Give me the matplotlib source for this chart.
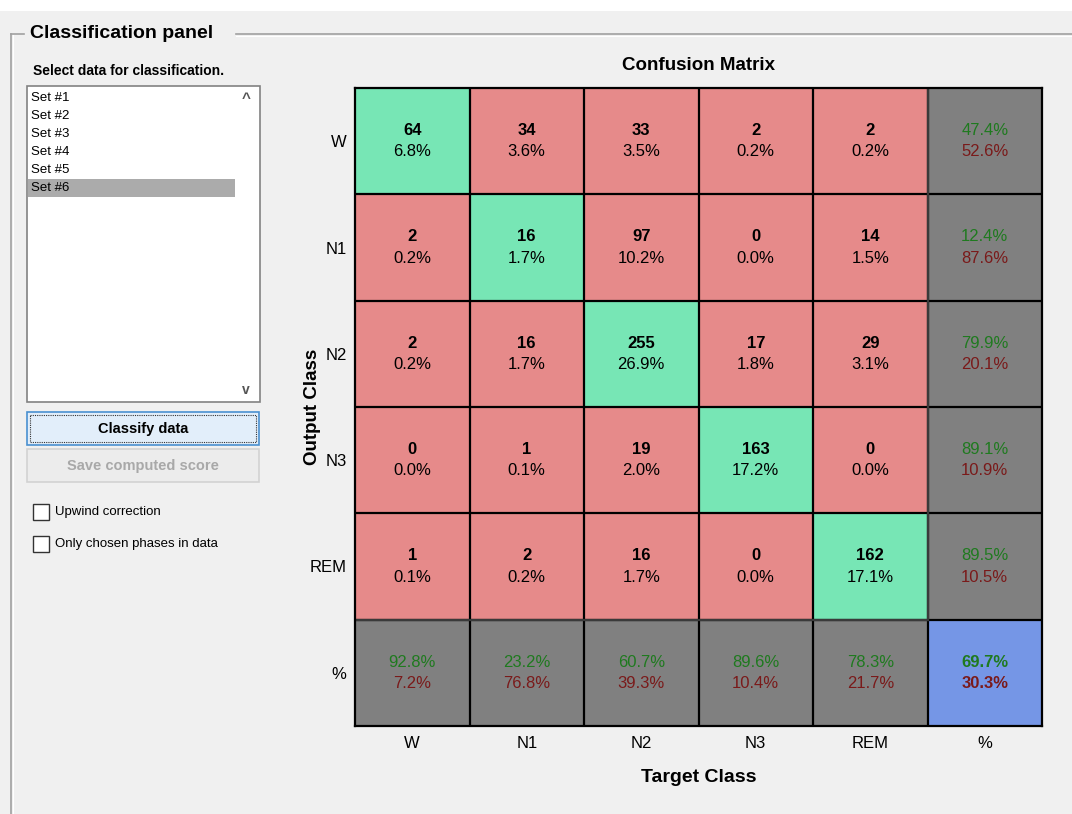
import numpy as np
import matplotlib
matplotlib.use("agg")
import matplotlib.pyplot as plt
from matplotlib.patches import Rectangle

plt.rcParams['font.family'] = ['Liberation Sans', 'DejaVu Sans']

# classes (rows = output, cols = target)
classes = ['W', 'N1', 'N2', 'N3', 'REM']
counts = np.array([
    [64, 34, 33, 2, 2],
    [2, 16, 97, 0, 14],
    [2, 16, 255, 17, 29],
    [0, 1, 19, 163, 0],
    [1, 2, 16, 0, 162],
])
data_sets = ['Set #1', 'Set #2', 'Set #3', 'Set #4', 'Set #5', 'Set #6']
selected_set = 5

W_PX, H_PX = 1072, 814
BG = '#f0f0f0'
GREEN = '#77e6b5'
RED = '#e68a8a'
GRAY = '#808080'
BLUE = '#7596e6'
TXT_GREEN = '#1f7a1f'
TXT_RED = '#7a1a1a'

fig = plt.figure(figsize=(W_PX / 100, H_PX / 100), dpi=100)
fig.patch.set_facecolor(BG)

# ---- GUI layer in pixel coordinates ----
gui = fig.add_axes([0, 0, 1, 1])
gui.set_xlim(0, W_PX)
gui.set_ylim(H_PX, 0)
gui.axis('off')

gui.add_patch(Rectangle((0, 0), W_PX, 11, color='white', lw=0))
# panel frame
gui.plot([11, 11], [34, H_PX], color='#a0a0a0', lw=1.2)
gui.plot([12.5, 12.5], [35, H_PX], color='white', lw=0.8)
gui.plot([11, 24], [34, 34], color='#a0a0a0', lw=1.2)
gui.plot([236, W_PX], [34, 34], color='#a0a0a0', lw=1.2)
gui.plot([236, W_PX], [35.5, 35.5], color='white', lw=0.8)
gui.text(30, 34, 'Classification panel', fontsize=14, fontweight='bold',
         va='center', ha='left')
gui.text(33, 71, 'Select data for classification.', fontsize=10,
         fontweight='bold', va='center', ha='left')

# listbox
gui.add_patch(Rectangle((27, 86), 233, 316, facecolor='white',
                        edgecolor='#828282', lw=1.2))
for i, name in enumerate(data_sets):
    y = 98 + i * 18
    if i == selected_set:
        gui.add_patch(Rectangle((28, y - 9), 207, 18, facecolor='#ababab', lw=0))
    gui.text(31, y, name, fontsize=9.5, va='center', ha='left')
gui.text(246, 99, '^', fontsize=11, fontweight='bold', va='center',
         ha='center', color='#555555')
gui.text(246, 390, 'v', fontsize=10, fontweight='bold', va='center',
         ha='center', color='#555555')

# buttons
gui.add_patch(Rectangle((27, 412), 232, 33, facecolor='#e2eefa',
                        edgecolor='#4a90d0', lw=1.2))
gui.add_patch(Rectangle((30, 415), 226, 27, facecolor='none',
                        edgecolor='#333333', lw=0.8, ls=(0, (1, 1))))
gui.text(143, 429, 'Classify data', fontsize=10.5, fontweight='bold',
         va='center', ha='center')
gui.add_patch(Rectangle((27, 449), 232, 33, facecolor='#ececec',
                        edgecolor='#d2d2d2', lw=1.2))
gui.text(143, 466, 'Save computed score', fontsize=10.5, fontweight='bold',
         va='center', ha='center', color='#a8a8a8')

# checkboxes
for y, label in [(512, 'Upwind correction'), (544, 'Only chosen phases in data')]:
    gui.add_patch(Rectangle((33, y - 8), 16, 16, facecolor='white',
                            edgecolor='#333333', lw=1))
    gui.text(55, y, label, fontsize=9.5, va='center', ha='left')

# ---- confusion matrix ----
n = len(classes)
total = counts.sum()
correct = np.trace(counts)
row_sum = counts.sum(axis=1)
col_sum = counts.sum(axis=0)

def hex2rgb(h):
    return np.array(matplotlib.colors.to_rgb(h))

rgb = np.zeros((n + 1, n + 1, 3))
for r in range(n + 1):
    for c in range(n + 1):
        if r == n and c == n:
            rgb[r, c] = hex2rgb(BLUE)
        elif r == n or c == n:
            rgb[r, c] = hex2rgb(GRAY)
        elif r == c:
            rgb[r, c] = hex2rgb(GREEN)
        else:
            rgb[r, c] = hex2rgb(RED)

left, right, top, bottom = 355, 1042, 88, 726
ax = fig.add_axes([left / W_PX, 1 - bottom / H_PX, (right - left) / W_PX,
                   (bottom - top) / H_PX])
ax.imshow(rgb, extent=(-0.5, n + 0.5, n + 0.5, -0.5), aspect='auto',
          interpolation='nearest')
ax.set_xlim(-0.5, n + 0.5)
ax.set_ylim(n + 0.5, -0.5)

for k in range(1, n + 1):
    ax.axvline(k - 0.5, color='black', lw=1.6)
    ax.axhline(k - 0.5, color='black', lw=1.6)
# lighter lines between margin cells
ax.plot([n - 0.5, n - 0.5], [-0.5, n - 0.5], color='#3a3a3a', lw=1.6)
ax.plot([-0.5, n - 0.5], [n - 0.5, n - 0.5], color='#3a3a3a', lw=1.6)
for s in ax.spines.values():
    s.set_linewidth(1.6)

FS = 12
for r in range(n):
    for c in range(n):
        ax.text(c, r - 0.1, str(counts[r, c]), ha='center', va='center',
                fontsize=FS, fontweight='bold')
        ax.text(c, r + 0.1, f'{100 * counts[r, c] / total:.1f}%',
                ha='center', va='center', fontsize=FS)

def margin_text(x, y, frac, bold=False):
    w = 'bold' if bold else 'normal'
    ax.text(x, y - 0.1, f'{100 * frac:.1f}%', ha='center', va='center',
            fontsize=FS, color=TXT_GREEN, fontweight=w)
    ax.text(x, y + 0.1, f'{100 * (1 - frac):.1f}%', ha='center', va='center',
            fontsize=FS, color=TXT_RED, fontweight=w)

for r in range(n):
    margin_text(n, r, counts[r, r] / row_sum[r])
for c in range(n):
    margin_text(c, n, counts[c, c] / col_sum[c])
margin_text(n, n, correct / total, bold=True)

labels = classes + ['%']
ax.set_xticks(range(n + 1))
ax.set_xticklabels(labels, fontsize=12)
ax.set_yticks(range(n + 1))
ax.set_yticklabels(labels, fontsize=12)
ax.tick_params(axis='x', length=0, pad=7)
ax.tick_params(axis='y', length=0, pad=6)
ax.set_title('Confusion Matrix', fontsize=13.5, fontweight='bold', pad=13)
ax.set_xlabel('Target Class', fontsize=14, fontweight='bold', labelpad=13)
ax.set_ylabel('Output Class', fontsize=13.5, fontweight='bold', labelpad=-8)

fig.savefig('out.png', dpi=100, facecolor=BG)
